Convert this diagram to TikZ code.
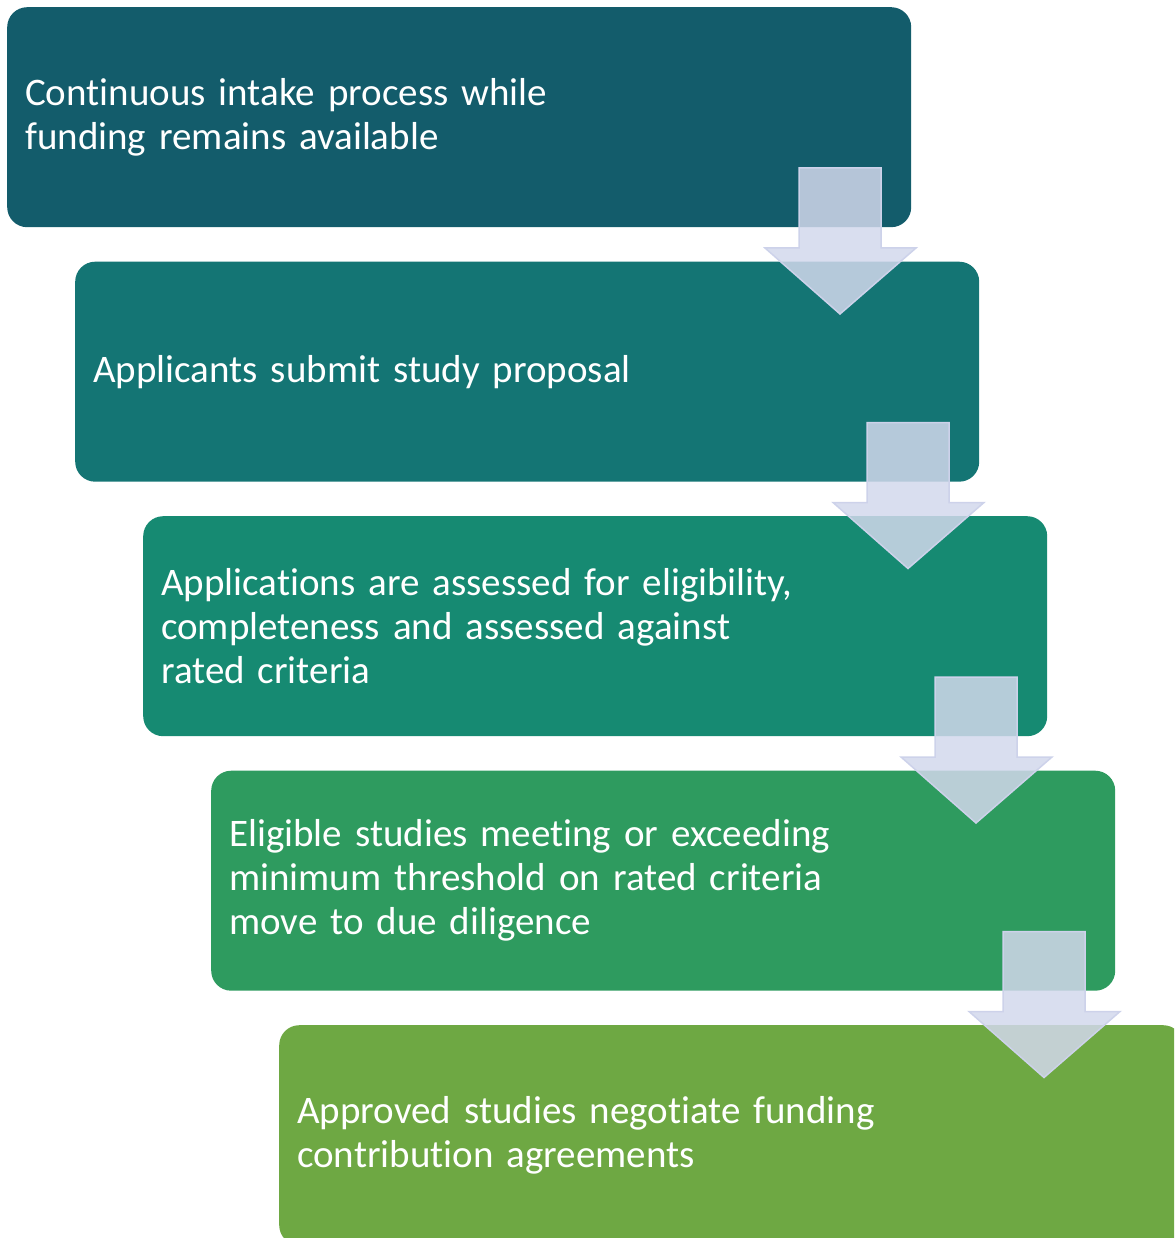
\documentclass[tikz,border=0pt]{standalone}
\usepackage{fontspec}
\setmainfont{Carlito}[Ligatures={NoCommon}]
\usepackage{tikz}
\usetikzlibrary{positioning}

\definecolor{stepOne}{RGB}{19,92,107}
\definecolor{stepTwo}{RGB}{20,117,116}
\definecolor{stepThree}{RGB}{22,138,114}
\definecolor{stepFour}{RGB}{46,155,95}
\definecolor{stepFive}{RGB}{110,168,67}
\definecolor{arrowFill}{RGB}{210,216,236}
\definecolor{arrowLine}{RGB}{205,210,234}

\tikzset{
  stepbox/.style={rectangle, rounded corners=20pt, anchor=north west,
    minimum width=904pt, minimum height=220pt, inner xsep=18pt,
    text width=868pt, align=left, text=white,
    font=\fontsize{39}{44}\selectfont},
  pics/downarrow/.style={code={
    \draw[fill=arrowFill, fill opacity=0.85, draw=arrowLine, line width=1.5pt]
      (-41,146) -- (41,146) -- (41,66) -- (76,66) -- (0,0)
      -- (-75,66) -- (-41,66) -- cycle;
  }}
}

\begin{document}
\begin{tikzpicture}[x=1pt,y=1pt,yscale=-1,xscale=1]
\useasboundingbox (0,0) rectangle (1174,1238);
\clip (0,0) rectangle (1174,1238);

%Steps
\node[stepbox, fill=stepOne] (intake) at (7,7)
  {Continuous intake process while\\funding remains available};
\node[stepbox, fill=stepTwo] (submit) at (75,261.5)
  {Applicants submit study proposal};
\node[stepbox, fill=stepThree] (assess) at (143,516)
  {Applications are assessed for eligibility,\\completeness and assessed against\\rated criteria};
\node[stepbox, fill=stepFour] (diligence) at (211,770.5)
  {Eligible studies meeting or exceeding\\minimum threshold on rated criteria\\move to due diligence};
\node[stepbox, fill=stepFive] (agreement) at (279,1025)
  {Approved studies negotiate funding\\contribution agreements};

%Block arrows
\coordinate (tipA) at (840,314);
\coordinate (tipB) at (908,568.5);
\coordinate (tipC) at (976,823);
\coordinate (tipD) at (1044,1077.5);
\pic at (tipA) {downarrow};
\pic at (tipB) {downarrow};
\pic at (tipC) {downarrow};
\pic at (tipD) {downarrow};

\end{tikzpicture}
\end{document}
